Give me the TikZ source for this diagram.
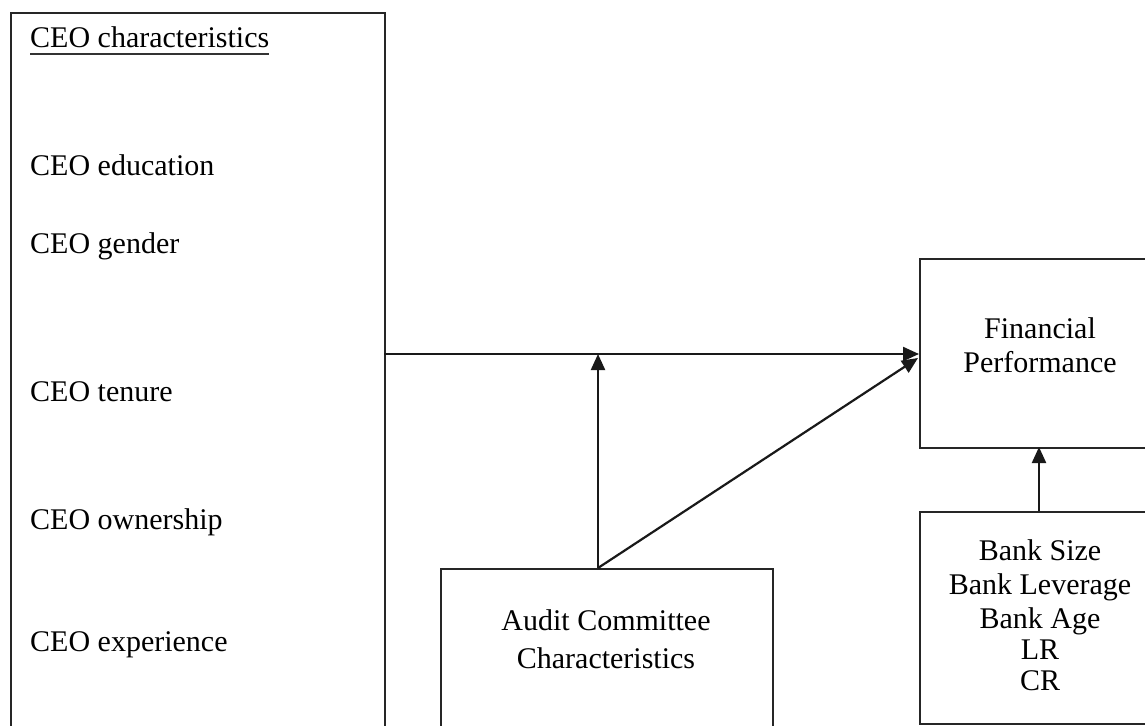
\documentclass[tikz,border=0pt]{standalone}
\usepackage{fontspec}
\setmainfont{Liberation Serif}
\usetikzlibrary{arrows.meta}
\begin{document}
\begin{tikzpicture}[x=1pt,y=-1pt,
  box/.style={draw=black!85,line width=1.8pt,inner sep=0pt,anchor=north west},
  lbl/.style={inner sep=0pt,font=\fontsize{30}{35}\selectfont},
  conn/.style={draw=black!90,line width=2.2pt,-{Triangle[length=16pt,width=14pt]}}]
\useasboundingbox (0,0) rectangle (1145,725);
\clip (0,0) rectangle (1145,725);
% boxes
\node[box,minimum width=374pt,minimum height=800pt] (ceo) at (10,12) {};
\node[box,minimum width=332pt,minimum height=250pt] (audit) at (440,568) {};
\node[box,minimum width=300pt,minimum height=189pt] (fp) at (919,258) {};
\node[box,minimum width=300pt,minimum height=212pt] (bank) at (919,511) {};
% CEO texts
\node[lbl,anchor=base west] (t0) at (30,48) {CEO characteristics};
\draw[line width=1.2pt,black!80] (t0.base west)++(0,6) -- ([yshift=-6pt]t0.base east);
\node[lbl,anchor=base west] (t1) at (30,175) {CEO education};
\node[lbl,anchor=base west] (t2) at (30,253) {CEO gender};
\node[lbl,anchor=base west] (t3) at (30,401) {CEO tenure};
\node[lbl,anchor=base west] (t4) at (30,529) {CEO ownership};
\node[lbl,anchor=base west] (t5) at (30,651) {CEO experience};
% audit texts
\node[lbl,anchor=base] (a1) at (606,630) {Audit Committee};
\node[lbl,anchor=base] (a2) at (606,668) {Characteristics};
% FP texts
\node[lbl,anchor=base] (f1) at (1040,338) {Financial};
\node[lbl,anchor=base] (f2) at (1040,372) {Performance};
% bank texts
\node[lbl,anchor=base] (b1) at (1040,560) {Bank Size};
\node[lbl,anchor=base] (b2) at (1040,594) {Bank Leverage};
\node[lbl,anchor=base] (b3) at (1040,628) {Bank Age};
\node[lbl,anchor=base] (b4) at (1040,659) {LR};
\node[lbl,anchor=base] (b5) at (1040,690) {CR};
% connector coordinates
\coordinate (hs) at (384,354);
\coordinate (he) at (919,354);
\coordinate (as) at (598,568);
\coordinate (ve) at (598,354);
\coordinate (de) at (918,358);
\coordinate (bs) at (1039,511);
\coordinate (be) at (1039,447);
\draw[conn] (hs) -- (he);
\draw[conn] (as) -- (ve);
\draw[conn] (as) -- (de);
\draw[conn] (bs) -- (be);
\end{tikzpicture}
\end{document}
